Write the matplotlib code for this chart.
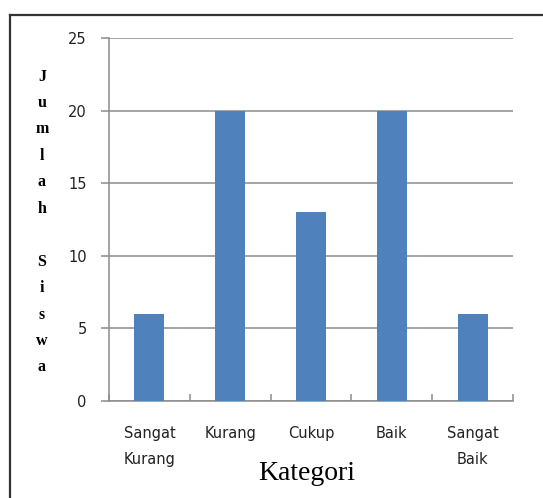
import matplotlib
matplotlib.use("Agg")
import matplotlib.pyplot as plt
from matplotlib.lines import Line2D

categories = ["Sangat\nKurang", "Kurang", "Cukup", "Baik", "Sangat\nBaik"]
values = [6, 20, 13, 20, 6]
yticks = [0, 5, 10, 15, 20, 25]

W, H = 543, 498
fig = plt.figure(figsize=(W / 100, H / 100), dpi=100)
fig.patch.set_facecolor("white")

# outer frame (left and top edges)
fig.add_artist(Line2D([10 / W, 10 / W], [0, 1 - 15 / H], transform=fig.transFigure,
                      color="#333333", lw=1.6))
fig.add_artist(Line2D([10 / W, 1], [1 - 15 / H, 1 - 15 / H], transform=fig.transFigure,
                      color="#333333", lw=1.6))

ax = fig.add_axes([109 / W, 1 - 401 / H, (513 - 109) / W, (401 - 38) / H])
x = list(range(len(categories)))
ax.bar(x, values, width=0.37, color="#4F81BD", zorder=3)

ax.set_xlim(-0.5, len(categories) - 0.5)
ax.set_ylim(0, 25)
ax.set_yticks(yticks)
ax.yaxis.grid(True, color="#8c8c8c", lw=1.1)
ax.set_axisbelow(True)
for s in ["top", "right"]:
    ax.spines[s].set_visible(False)
for s in ["left", "bottom"]:
    ax.spines[s].set_color("#8c8c8c")
    ax.spines[s].set_linewidth(1.1)

ax.set_xticks([i - 0.5 for i in range(len(categories) + 1)], minor=False)
ax.set_xticklabels([])
ax.set_xticks(x, minor=True)
ax.set_xticklabels(categories, minor=True, fontsize=10.5, family="DejaVu Sans",
                   color="#222222", linespacing=1.9)
ax.tick_params(axis="x", which="major", length=5, color="#8c8c8c", width=1.1, direction="in")
ax.tick_params(axis="x", which="minor", length=0, pad=18)
ax.tick_params(axis="y", length=6, color="#8c8c8c", width=1.1, labelsize=10.5,
               labelcolor="#222222", pad=10)

fig.text(307 / W, 1 - 473 / H, "Kategori", ha="center", va="center",
         family="Liberation Serif", fontsize=20)
fig.text(42 / W, 1 - 222 / H, "J\nu\nm\nl\na\nh\n\nS\ni\ns\nw\na", ha="center", va="center",
         family="Liberation Serif", fontweight="bold", fontsize=11.5, linespacing=1.87)

fig.savefig("out.png", dpi=100, facecolor="white")
